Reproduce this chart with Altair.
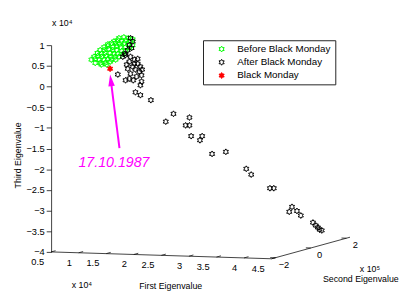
import math
import altair as alt
import pandas as pd

# ---------------- data (3-D scatter shown in its projected view) ----------------
# horizontal position in units of the First Eigenvalue axis (x 1e4),
# vertical position in units of the Third Eigenvalue axis (x 1e4)
SERIES = ["Before Black Monday", "After Black Monday", "Black Monday"]
SERIES_COLORS = ["#00ff00", "#000000", "#ff0000"]

before_x = [1.73, 1.82, 1.90, 1.98, 1.64, 1.71, 1.78, 1.85, 1.94,
            1.53, 1.60, 1.67, 1.74, 1.83, 1.90, 1.98,
            1.46, 1.53, 1.62, 1.69, 1.76, 1.85, 1.92,
            1.39, 1.46, 1.55, 1.62, 1.69, 1.78, 1.85,
            1.34, 1.41, 1.48, 1.57, 1.64, 1.71, 1.80,
            1.28, 1.35, 1.42, 1.50, 1.58, 1.66, 1.73,
            1.23, 1.30, 1.37, 1.46, 1.53, 1.60, 1.67,
            1.30, 1.39, 1.48, 1.57, 1.41, 1.51]
before_y = [1.17, 1.19, 1.17, 1.14, 1.09, 1.12, 1.09, 1.12, 1.09,
            1.02, 1.05, 1.05, 1.02, 1.05, 1.02, 1.00,
            0.95, 0.98, 0.95, 0.98, 0.95, 0.95, 0.93,
            0.88, 0.88, 0.91, 0.88, 0.88, 0.86, 0.86,
            0.81, 0.79, 0.81, 0.81, 0.79, 0.79, 0.79,
            0.72, 0.74, 0.72, 0.74, 0.72, 0.72, 0.72,
            0.65, 0.67, 0.65, 0.65, 0.67, 0.65, 0.65,
            0.57, 0.57, 0.57, 0.60, 0.53, 0.53]

after_x = [1.94, 1.98, 1.92, 1.96, 1.89, 1.83, 1.80, 1.85, 1.94, 2.01,
           2.07, 1.92, 2.07, 2.12, 1.98, 1.89, 2.03, 2.10, 1.94, 2.05,
           2.14, 1.92, 1.85, 1.99, 2.14, 2.15, 2.01, 1.87, 2.12, 1.71,
           2.03, 2.12, 2.31, 2.58, 2.72, 3.01, 2.94, 3.01, 3.04, 3.24,
           3.20, 3.42, 3.67, 4.04, 4.13, 4.47, 4.54, 4.82, 4.87, 4.96,
           5.03, 5.25, 5.30, 5.34, 5.37, 5.41]
after_y = [1.17, 1.09, 1.00, 0.93, 0.88, 0.79, 0.72, 0.76, 0.72, 0.65,
           0.67, 0.60, 0.55, 0.48, 0.48, 0.43, 0.41, 0.36, 0.31, 0.24,
           0.27, 0.19, 0.15, 0.15, 0.12, 0.41, 0.55, 0.53, 0.03, 0.29,
           -0.14, -0.21, -0.33, -0.85, -0.66, -0.75, -0.94, -0.94, -1.20, -1.20,
           -1.30, -1.63, -1.58, -1.99, -2.13, -2.46, -2.46, -3.03, -2.91, -3.01,
           -3.12, -3.29, -3.36, -3.41, -3.46, -3.48]

crash_x = [1.57]
crash_y = [0.43]

# annotation
ANNOT_TEXT = "17.10.1987"
ANNOT_POS = (1.64, -1.84)
ARROW_TAIL = (1.74, -1.49)
ARROW_TIP = (1.57, 0.29)

# axes
E1_LIM = [0.5, 4.5]
E2_LIM = [-2.2, 2.2]
E3_LIM = [-4.0, 1.0]
E1_TICKS = [0.5, 1, 1.5, 2, 2.5, 3, 3.5, 4, 4.5]
E1_LABELS = ["0.5", "1", "1.5", "2", "2.5", "3", "3.5", "4", "4.5"]
E2_TICKS = [-2, 0, 2]
E2_LABELS = ["\u22122", "0", "2"]
E3_TICKS = [-4, -3.5, -3, -2.5, -2, -1.5, -1, -0.5, 0, 0.5, 1]

# ---------------- layout / style ----------------
FONT = "Liberation Sans"
PLOT_W, PLOT_H = 337.5, 211
X_DOMAIN = [0.5, 6.5]
PX_X = PLOT_W / (X_DOMAIN[1] - X_DOMAIN[0])
PX_Y = PLOT_H / (E3_LIM[1] - E3_LIM[0])
E1_DIR = (225.0, 7.0)     # screen direction of the full e1 axis (px)
E2_DIR = (80.0, -22.0)    # screen direction of the full e2 axis (px)


def proj(e1, e2, e3):
    u1 = (e1 - E1_LIM[0]) / (E1_LIM[1] - E1_LIM[0])
    u2 = (e2 - E2_LIM[0]) / (E2_LIM[1] - E2_LIM[0])
    px = u1 * E1_DIR[0] + u2 * E2_DIR[0]
    py = u1 * E1_DIR[1] + u2 * E2_DIR[1]
    return X_DOMAIN[0] + px / PX_X, e3 - py / PX_Y


pts = []
for k in range(12):
    a = math.radians(90 + 30 * k)
    r = 1.0 if k % 2 == 0 else 1 / math.sqrt(3)
    pts.append((r * math.cos(a), -r * math.sin(a)))
HEX = "M" + "L".join(f"{x:.3f},{y:.3f}" for x, y in pts) + "Z"
HEAD = "M0,-1L0.55,1L-0.55,1Z"

XS = alt.Scale(domain=X_DOMAIN, nice=False, zero=False)
YS = alt.Scale(domain=E3_LIM, nice=False, zero=False)
YAX = alt.Axis(values=E3_TICKS, format="~g", title="Third Eigenvalue", grid=False,
               tickSize=5, labelPadding=2, domainColor="#111", tickColor="#111",
               domainWidth=0.8, tickWidth=0.8, labelColor="black", labelFont=FONT,
               labelFontSize=9.5, titleFont=FONT, titleFontSize=9, titleFontWeight="normal",
               titleColor="black", titleX=-34, titleY=112, titleAngle=270,
               titleAlign="center", titleBaseline="middle")
X = alt.X("x:Q", scale=XS, axis=None)
Y = alt.Y("y:Q", scale=YS, axis=YAX)

# ---------------- points ----------------
df_pts = pd.concat([
    pd.DataFrame({"x": before_x, "y": before_y, "series": SERIES[0]}),
    pd.DataFrame({"x": after_x, "y": after_y, "series": SERIES[1]}),
    pd.DataFrame({"x": crash_x, "y": crash_y, "series": SERIES[2]}),
], ignore_index=True)

leg = alt.Legend(title=None, orient="none", legendX=155, legendY=-5, fillColor="white",
                 strokeColor="#222", padding=4, symbolType=HEX, symbolOffset=10,
                 labelOffset=11, rowPadding=3.5, labelFont=FONT, labelFontSize=10,
                 labelColor="black", symbolStrokeWidth=1, symbolOpacity=1,
                 cornerRadius=0, labelLimit=200)

points = alt.Chart(df_pts).mark_point(shape=HEX, strokeWidth=1, opacity=1).encode(
    x=X, y=Y,
    stroke=alt.Stroke("series:N", scale=alt.Scale(domain=SERIES, range=SERIES_COLORS), legend=leg),
    fill=alt.Fill("series:N", scale=alt.Scale(domain=SERIES, range=["transparent", "transparent", "#ff0000"]), legend=leg),
    size=alt.Size("series:N", scale=alt.Scale(domain=SERIES, range=[36, 36, 81]), legend=leg),
)

# ---------------- 3-D box axes ----------------
segs = []
a0 = proj(E1_LIM[0], E2_LIM[0], E3_LIM[0])
a1 = proj(E1_LIM[1], E2_LIM[0], E3_LIM[0])
a2 = proj(E1_LIM[1], E2_LIM[1], E3_LIM[0])
segs.append({"x": a0[0], "y": a0[1], "x2": a1[0], "y2": a1[1]})
segs.append({"x": a1[0], "y": a1[1], "x2": a2[0], "y2": a2[1]})
for v in E1_TICKS:
    p = proj(v, E2_LIM[0], E3_LIM[0]); q = proj(v, E2_LIM[0] + 0.25, E3_LIM[0])
    segs.append({"x": p[0], "y": p[1], "x2": q[0], "y2": q[1]})
for v in E2_TICKS:
    p = proj(E1_LIM[1], v, E3_LIM[0]); q = proj(E1_LIM[1] - 0.09, v, E3_LIM[0])
    segs.append({"x": p[0], "y": p[1], "x2": q[0], "y2": q[1]})
axis_lines = alt.Chart(pd.DataFrame(segs)).mark_rule(color="#111", strokeWidth=0.8).encode(
    x=X, y=Y, x2=alt.X2("x2:Q"), y2=alt.Y2("y2:Q"))

e1_lab = pd.DataFrame([{"x": proj(v, E2_LIM[0], E3_LIM[0])[0], "y": proj(v, E2_LIM[0], E3_LIM[0])[1], "text": t}
                       for v, t in zip(E1_TICKS, E1_LABELS)])
e2_lab = pd.DataFrame([{"x": proj(E1_LIM[1], v, E3_LIM[0])[0], "y": proj(E1_LIM[1], v, E3_LIM[0])[1], "text": t}
                       for v, t in zip(E2_TICKS, E2_LABELS)])


def text_layer(df, **kw):
    kw.setdefault("color", "black")
    kw.setdefault("font", FONT)
    return alt.Chart(df).mark_text(**kw).encode(x=X, y=Y, text="text:N")


def one(pos, text):
    return pd.DataFrame({"x": [pos[0]], "y": [pos[1]], "text": [text]})


e1_text = text_layer(e1_lab, align="right", baseline="middle", dx=-7, dy=10, fontSize=9.5)
e2_text = text_layer(e2_lab, align="center", baseline="middle", dx=9, dy=7, fontSize=9.5)

top_mult = text_layer(one(proj(E1_LIM[0], E2_LIM[0], E3_LIM[1]), "x 10\u2074"),
                      align="left", baseline="middle", dx=1, dy=-23, fontSize=9)
e1_mult = text_layer(one(a0, "x 10\u2074"), align="left", baseline="middle", dx=21, dy=34, fontSize=9)
e1_title = text_layer(one(proj(2.5, E2_LIM[0], E3_LIM[0]), "First Eigenvalue"),
                      align="center", baseline="middle", dx=9.5, dy=31, fontSize=9)
e2_mult = text_layer(one(a2, "x 10\u2075"), align="left", baseline="middle", dx=10, dy=33, fontSize=9)
e2_title = text_layer(one(a2, "Second Eigenvalue"), align="center", baseline="middle",
                      dx=11, dy=43, fontSize=9)

# ---------------- arrow annotation ----------------
sx = (ARROW_TIP[0] - ARROW_TAIL[0]) * PX_X
sy = -(ARROW_TIP[1] - ARROW_TAIL[1]) * PX_Y
L = math.hypot(sx, sy)
ux, uy = sx / L, sy / L
head_c = (ARROW_TIP[0] - 6 * ux / PX_X, ARROW_TIP[1] + 6 * uy / PX_Y)
line_end = (ARROW_TIP[0] - 9 * ux / PX_X, ARROW_TIP[1] + 9 * uy / PX_Y)
angle = math.degrees(math.atan2(ux, -uy)) % 360

arrow_line = alt.Chart(pd.DataFrame({"x": [ARROW_TAIL[0]], "y": [ARROW_TAIL[1]],
                                     "x2": [line_end[0]], "y2": [line_end[1]]})).mark_rule(
    color="#ff00ff", strokeWidth=2).encode(x=X, y=Y, x2=alt.X2("x2:Q"), y2=alt.Y2("y2:Q"))
arrow_head = alt.Chart(pd.DataFrame({"x": [head_c[0]], "y": [head_c[1]]})).mark_point(
    shape=HEAD, size=144, filled=True, color="#ff00ff", opacity=1, angle=angle).encode(x=X, y=Y)
annot = text_layer(one(ANNOT_POS, ANNOT_TEXT), color="#ff00ff", align="center",
                   baseline="middle", fontSize=14.5, fontStyle="italic")

chart = alt.layer(
    axis_lines, e1_text, e2_text, top_mult, e1_mult, e1_title, e2_mult, e2_title,
    points, arrow_line, arrow_head, annot,
).properties(
    width=PLOT_W, height=PLOT_H,
    padding={"left": 44, "top": 35, "right": 17.5, "bottom": 38},
    autosize=alt.AutoSizeParams(type="none"),
).configure_view(stroke=None)

chart.save("out.html", embed_options={"renderer": "svg", "actions": False})
